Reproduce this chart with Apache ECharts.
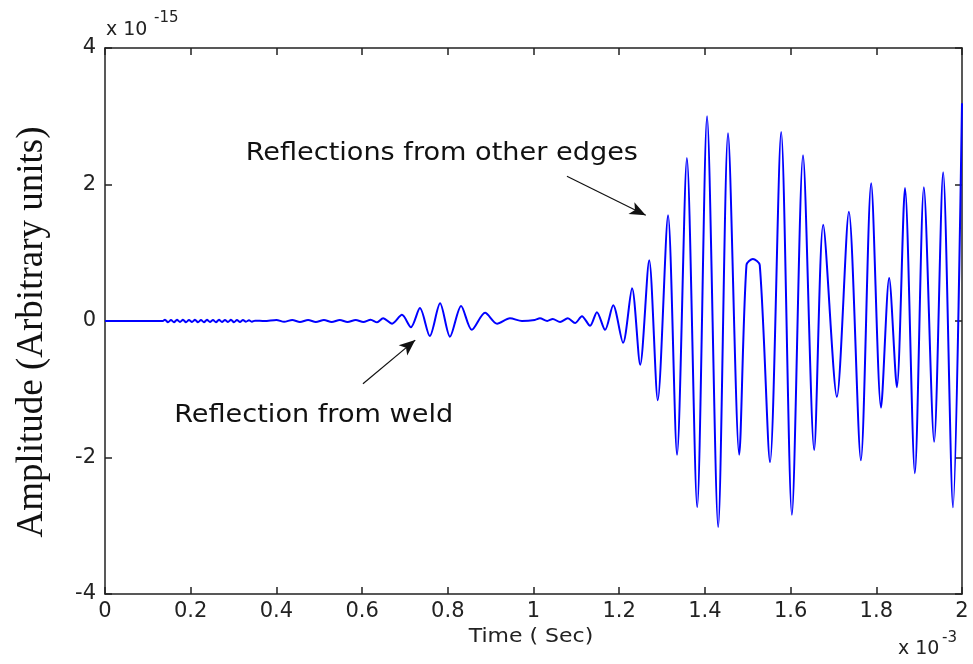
<!DOCTYPE html>
<html>
<head>
<meta charset="utf-8">
<script src="https://cdn.jsdelivr.net/npm/echarts@6/dist/echarts.min.js"></script>
<style>
  html, body { margin: 0; padding: 0; background: #ffffff; }
  #chart { width: 973px; height: 664px; }
</style>
</head>
<body>
<div id="chart"></div>
<script>
// Received echo: time in units of 1e-3 s, amplitude in units of 1e-15 (arbitrary)
const timeMs = [
  0.000, 0.135,
  0.140, 0.147, 0.154, 0.161, 0.168, 0.175, 0.182, 0.189, 0.196, 0.203,
  0.210, 0.217, 0.224, 0.231, 0.238, 0.245, 0.252, 0.259, 0.266, 0.273,
  0.280, 0.287, 0.294, 0.301, 0.308, 0.315, 0.322, 0.329, 0.336, 0.343,
  0.350, 0.372,
  0.400, 0.418, 0.437, 0.455, 0.474, 0.492, 0.511, 0.529, 0.548, 0.566,
  0.585, 0.603, 0.620, 0.635,
  0.649, 0.670, 0.693, 0.714, 0.735, 0.758, 0.782, 0.805, 0.831, 0.856,
  0.887, 0.915, 0.945, 0.973, 1.003, 1.015, 1.032, 1.045, 1.062, 1.080,
  1.097, 1.113, 1.132,
  1.148, 1.167, 1.186, 1.209, 1.230, 1.249, 1.270, 1.290, 1.314, 1.335,
  1.358, 1.382, 1.405, 1.431, 1.454, 1.480, 1.497, 1.512, 1.528, 1.552,
  1.578, 1.603, 1.629, 1.655, 1.676, 1.708, 1.736, 1.764, 1.788, 1.811,
  1.830, 1.848, 1.867, 1.890, 1.911, 1.935, 1.956, 1.979, 2.000
];
const amplitude = [
  0.000, 0.000,
  0.018, -0.018, 0.014, -0.018, 0.018, -0.014, 0.018, -0.018, 0.014, -0.014,
  0.018, -0.018, 0.014, -0.018, 0.018, -0.014, 0.014, -0.018, 0.018, -0.014,
  0.014, -0.014, 0.018, -0.018, 0.014, -0.014, 0.014, -0.010, 0.010, -0.010,
  0.005, 0.000,
  0.015, -0.012, 0.015, -0.015, 0.015, -0.015, 0.015, -0.015, 0.015, -0.015,
  0.015, -0.015, 0.020, -0.020,
  0.040, -0.040, 0.090, -0.090, 0.190, -0.220, 0.260, -0.230, 0.220, -0.130,
  0.120, -0.040, 0.040, 0.000, 0.015, 0.040, 0.000, 0.030, -0.015, 0.040,
  -0.030, 0.070, -0.070,
  0.130, -0.130, 0.230, -0.320, 0.480, -0.640, 0.890, -1.160, 1.550, -1.960,
  2.390, -2.730, 3.000, -3.020, 2.750, -1.960, 0.820, 0.910, 0.820, -2.070,
  2.770, -2.840, 2.430, -1.890, 1.410, -1.110, 1.600, -2.040, 2.020, -1.270,
  0.630, -0.970, 1.950, -2.230, 1.960, -1.770, 2.180, -2.730, 3.190
];

// Annotation labels and arrows, positioned in data units
const annotationTexts = ['Reflections from other edges', 'Reflection from weld'];
const annotationTextAt = [[0.786, 2.46], [0.487, -1.39]];
const arrowFrom = [[1.078, 2.12], [0.602, -0.92]];
const arrowTo = [[1.262, 1.55], [0.724, -0.28]];

const axisColor = '#222222';
const tickFont = 'DejaVu Sans';

const seriesData = timeMs.map((t, i) => [t, amplitude[i]]);

function boxAxis(kind, position, showLabels) {
  return {
    type: 'value',
    position: position,
    min: kind === 'x' ? 0 : -4,
    max: kind === 'x' ? 2 : 4,
    interval: kind === 'x' ? 0.2 : 2,
    axisLine: { show: true, onZero: false, lineStyle: { color: axisColor, width: 1.5 } },
    axisTick: { show: true, inside: true, length: 7, lineStyle: { color: axisColor, width: 1.5 } },
    axisLabel: {
      show: showLabels,
      color: axisColor,
      fontFamily: tickFont,
      fontSize: 21,
      margin: kind === 'x' ? 7 : 9
    },
    splitLine: { show: false }
  };
}

const chart = echarts.init(document.getElementById('chart'), null, { renderer: 'canvas' });

chart.setOption({
  animation: false,
  backgroundColor: '#ffffff',
  grid: { left: 105, right: 11, top: 48, bottom: 70 },
  xAxis: [boxAxis('x', 'bottom', true), boxAxis('x', 'top', false)],
  yAxis: [boxAxis('y', 'left', true), boxAxis('y', 'right', false)],
  series: [{
    type: 'line',
    data: seriesData,
    showSymbol: false,
    smooth: 0.28,
    lineStyle: { color: '#0000ff', width: 2 },
    markLine: {
      silent: true,
      symbol: ['none', 'arrow'],
      symbolSize: [10, 16],
      lineStyle: { color: '#111111', width: 1.2, type: 'solid' },
      label: { show: false },
      data: arrowFrom.map((p, i) => [{ coord: p }, { coord: arrowTo[i] }])
    }
  }]
});

// Text that sits on the chart: axis names, exponent notes, annotations
const graphics = [
  {
    type: 'text', x: 32, y: 332, rotation: Math.PI / 2,
    style: { text: 'Amplitude (Arbitrary units)', font: '37px "Liberation Serif"', fill: '#111', align: 'center', verticalAlign: 'middle' }
  },
  {
    type: 'text', x: 531, y: 637, scaleX: 1.1,
    style: { text: 'Time ( Sec)', font: '20px "DejaVu Sans"', fill: axisColor, align: 'center', verticalAlign: 'middle' }
  },
  {
    type: 'text', x: 106, y: 30,
    style: { text: 'x 10', font: '19px "DejaVu Sans"', fill: axisColor, align: 'left', verticalAlign: 'middle' }
  },
  {
    type: 'text', x: 154, y: 18,
    style: { text: '-15', font: '15px "DejaVu Sans"', fill: axisColor, align: 'left', verticalAlign: 'middle' }
  },
  {
    type: 'text', x: 898, y: 649,
    style: { text: 'x 10', font: '19px "DejaVu Sans"', fill: axisColor, align: 'left', verticalAlign: 'middle' }
  },
  {
    type: 'text', x: 942, y: 638,
    style: { text: '-3', font: '15px "DejaVu Sans"', fill: axisColor, align: 'left', verticalAlign: 'middle' }
  }
];

annotationTexts.forEach((txt, i) => {
  const p = chart.convertToPixel({ xAxisIndex: 0, yAxisIndex: 0 }, annotationTextAt[i]);
  graphics.push({
    type: 'text', x: p[0], y: p[1], scaleX: 1.085,
    style: { text: txt, font: '25px "DejaVu Sans"', fill: '#111', align: 'center', verticalAlign: 'middle' }
  });
});

chart.setOption({ graphic: graphics });
</script>
</body>
</html>
